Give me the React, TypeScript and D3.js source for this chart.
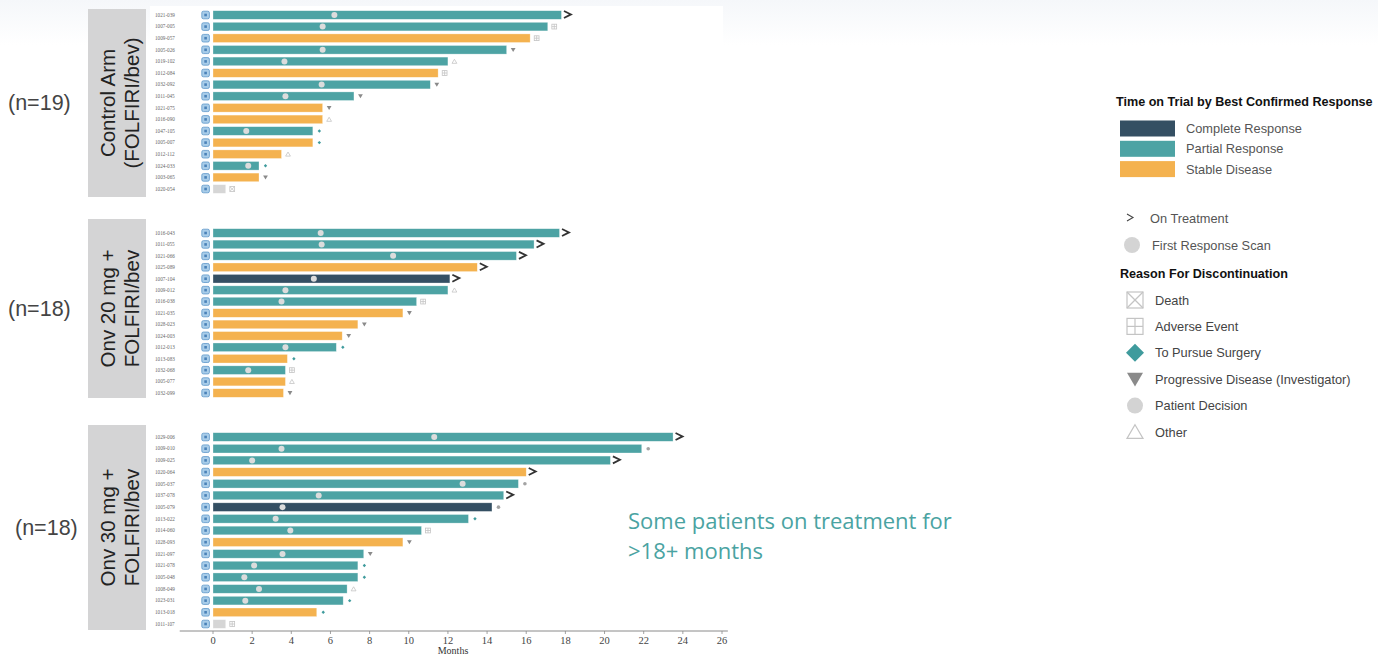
import React from "react";
import * as d3 from "d3";

// ---- Control arm (FOLFIRI/bev) ----
const controlIds = ["1021-039", "1007-005", "1009-057", "1005-026", "1019-102", "1012-084", "1032-092", "1011-045", "1021-075", "1016-090", "1047-105", "1005-007", "1012-112", "1024-033", "1003-065", "1020-054"];
const controlMonths = [17.8, 17.1, 16.2, 15.0, 12.0, 11.5, 11.1, 7.2, 5.6, 5.6, 5.1, 5.1, 3.5, 2.35, 2.35, 0.65];
const controlResponse = ["PR", "PR", "SD", "PR", "PR", "SD", "PR", "PR", "SD", "SD", "PR", "SD", "SD", "PR", "SD", "NE"];
const controlScan = [6.2, 5.6, null, 5.6, 3.65, null, 5.55, 3.7, null, null, 1.7, null, null, 1.8, null, null];
const controlReason = ["on", "ae", "ae", "pd", "other", "ae", "pd", "pd", "pd", "other", "surgery", "surgery", "other", "surgery", "pd", "death"];

// ---- Onv 20 mg + FOLFIRI/bev ----
const onv20Ids = ["1016-043", "1011-055", "1021-066", "1025-089", "1007-104", "1009-012", "1016-038", "1021-035", "1028-023", "1024-003", "1012-013", "1013-083", "1032-068", "1005-077", "1032-099"];
const onv20Months = [17.7, 16.4, 15.5, 13.5, 12.1, 12.0, 10.4, 9.7, 7.4, 6.6, 6.3, 3.8, 3.7, 3.7, 3.6];
const onv20Response = ["PR", "PR", "PR", "SD", "CR", "PR", "PR", "SD", "SD", "SD", "PR", "SD", "PR", "SD", "SD"];
const onv20Scan = [5.5, 5.55, 9.2, null, 5.15, 3.7, 3.5, null, null, null, 3.7, null, 1.8, null, null];
const onv20Reason = ["on", "on", "on", "on", "on", "other", "ae", "pd", "pd", "pd", "surgery", "surgery", "ae", "other", "pd"];

// ---- Onv 30 mg + FOLFIRI/bev ----
const onv30Ids = ["1029-006", "1009-010", "1009-025", "1020-064", "1005-037", "1037-078", "1005-079", "1013-022", "1014-060", "1028-093", "1021-097", "1021-078", "1005-048", "1008-049", "1023-031", "1013-018", "1011-107"];
const onv30Months = [23.5, 21.9, 20.3, 16.0, 15.6, 14.85, 14.25, 13.05, 10.65, 9.7, 7.7, 7.4, 7.4, 6.85, 6.65, 5.3, 0.65];
const onv30Response = ["PR", "PR", "PR", "SD", "PR", "PR", "CR", "PR", "PR", "SD", "PR", "PR", "PR", "PR", "PR", "SD", "NE"];
const onv30Scan = [11.3, 3.5, 2.0, null, 12.75, 5.4, 3.55, 3.2, 3.95, null, 3.55, 2.1, 1.6, 2.35, 1.65, null, null];
const onv30Reason = ["on", "decision", "on", "on", "decision", "on", "decision", "surgery", "ae", "pd", "pd", "surgery", "surgery", "other", "surgery", "surgery", "ae"];

const monthTicks = [0, 2, 4, 6, 8, 10, 12, 14, 16, 18, 20, 22, 24, 26];

const responseLabels = ["Complete Response", "Partial Response", "Stable Disease"];
const reasonLabels = ["Death", "Adverse Event", "To Pursue Surgery", "Progressive Disease (Investigator)", "Patient Decision", "Other"];

const COLORS: Record<string, string> = {
  CR: "#344f63",
  PR: "#4da3a4",
  SD: "#f4b24f",
  NE: "#d6d6d6",
};

const SANS = "'Liberation Sans', Arial, sans-serif";
const SERIF = "'Liberation Serif', 'Times New Roman', serif";

type Panel = {
  ids: string[];
  months: number[];
  response: string[];
  scan: (number | null)[];
  reason: string[];
  arm: string[];
  n: string;
  rows: [number, number];
  box: [number, number];
  nX: number;
};

const panels: Panel[] = [
  { ids: controlIds, months: controlMonths, response: controlResponse, scan: controlScan, reason: controlReason, arm: ["Control Arm", "(FOLFIRI/bev)"], n: "(n=19)", rows: [15, 189], box: [9, 197], nX: 8 },
  { ids: onv20Ids, months: onv20Months, response: onv20Response, scan: onv20Scan, reason: onv20Reason, arm: ["Onv 20 mg +", "FOLFIRI/bev"], n: "(n=18)", rows: [233, 393], box: [219, 398], nX: 8 },
  { ids: onv30Ids, months: onv30Months, response: onv30Response, scan: onv30Scan, reason: onv30Reason, arm: ["Onv 30 mg +", "FOLFIRI/bev"], n: "(n=18)", rows: [437, 624], box: [425, 630], nX: 15 },
];

function ReasonMark({ kind, x, y, s }: { kind: string; x: number; y: number; s: number }) {
  const h = s / 2;
  switch (kind) {
    case "death":
      return (
        <g stroke="#c4c4c4" strokeWidth={s > 8 ? 1.2 : 0.8} fill="none">
          <rect x={x - h} y={y - h} width={s} height={s} />
          <line x1={x - h} y1={y - h} x2={x + h} y2={y + h} />
          <line x1={x + h} y1={y - h} x2={x - h} y2={y + h} />
        </g>
      );
    case "ae":
      return (
        <g stroke="#c4c4c4" strokeWidth={s > 8 ? 1.2 : 0.8} fill="none">
          <rect x={x - h} y={y - h} width={s} height={s} />
          <line x1={x} y1={y - h} x2={x} y2={y + h} />
          <line x1={x - h} y1={y} x2={x + h} y2={y} />
        </g>
      );
    case "surgery":
      return <path d={`M${x},${y - h}L${x + h},${y}L${x},${y + h}L${x - h},${y}Z`} fill="#3f9b9d" />;
    case "pd":
      return <path d={`M${x - h},${y - h * 0.8}L${x + h},${y - h * 0.8}L${x},${y + h * 0.9}Z`} fill="#8a8a8a" />;
    case "decision":
      return <circle cx={x} cy={y} r={h} fill={s > 8 ? "#d3d3d3" : "#a3a3a3"} />;
    case "other":
      return (
        <path
          d={`M${x},${y - h * 0.9}L${x + h},${y + h * 0.8}L${x - h},${y + h * 0.8}Z`}
          fill="none"
          stroke="#c4c4c4"
          strokeWidth={s > 8 ? 1.2 : 0.8}
        />
      );
    default:
      return null;
  }
}

export default function App() {
  const W = 1378;
  const H = 657;
  const x = d3.scaleLinear().domain([0, 26]).range([213, 722]);
  const barH = 8.6;

  return (
    <svg width={W} height={H} style={{ position: "absolute", left: 0, top: 0, background: "#fff" }}>
      <defs>
        <linearGradient id="topShade" x1="0" y1="0" x2="0" y2="1">
          <stop offset="0" stopColor="#f5f7fa" />
          <stop offset="1" stopColor="#ffffff" />
        </linearGradient>
      </defs>
      <rect x={0} y={0} width={W} height={45} fill="url(#topShade)" />
      <rect x={150} y={6} width={573} height={H - 6} fill="#fff" />

      {panels.map((p, pi) => {
        const y = d3.scalePoint<string>().domain(p.ids).range(p.rows);
        const boxMid = (p.box[0] + p.box[1]) / 2;
        return (
          <g key={pi}>
            {/* arm label box */}
            <rect x={88} y={p.box[0]} width={58} height={p.box[1] - p.box[0]} fill="#d4d4d5" />
            <g transform={`translate(120,${boxMid}) rotate(-90)`}>
              {p.arm.map((t, i) => (
                <text
                  key={i}
                  x={0}
                  y={(i - 0.5) * 24 + 7}
                  textAnchor="middle"
                  fontFamily={SANS}
                  fontSize={20.5}
                  fill="#222"
                >
                  {t}
                </text>
              ))}
            </g>
            <text x={p.nX} y={boxMid + 7} fontFamily={SANS} fontSize={21.5} fill="#444">
              {p.n}
            </text>

            {p.ids.map((id, i) => {
              const cy = y(id)!;
              const end = x(p.months[i]);
              const scan = p.scan[i];
              return (
                <g key={id}>
                  <text x={155} y={cy + 1.8} fontFamily={SERIF} fontSize={5.2} fill="#666">
                    {id}
                  </text>
                  <rect x={201.8} y={cy - 3.8} width={7.6} height={7.6} rx={1.6} fill="#a9cde9" stroke="#5d97c9" strokeWidth={0.8} />
                  <rect x={204.3} y={cy - 1.3} width={2.6} height={2.6} fill="#4a82b8" />
                  <rect
                    x={x(0)}
                    y={cy - barH / 2}
                    width={end - x(0)}
                    height={barH}
                    fill={COLORS[p.response[i]]}
                    stroke="#ffffff"
                    strokeOpacity={0.5}
                    strokeWidth={0.6}
                  />
                  {scan !== null && <circle cx={x(scan)} cy={cy} r={3} fill="#dcdcdc" />}
                  {p.reason[i] === "on" ? (
                    <path
                      d={`M${end + 2.5},${cy - 4}L${end + 9.5},${cy - 0.6}L${end + 2.5},${cy + 3}`}
                      fill="none"
                      stroke="#333"
                      strokeWidth={1.8}
                    />
                  ) : (
                    <ReasonMark kind={p.reason[i]} x={end + 6.5} y={cy} s={p.reason[i] === "surgery" ? 3.4 : p.reason[i] === "decision" ? 3.6 : 4.8} />
                  )}
                </g>
              );
            })}
          </g>
        );
      })}

      {/* months axis */}
      <g>
        <line x1={x(-1.7)} x2={x(26.3)} y1={631} y2={631} stroke="#8a8a8a" strokeWidth={1} />
        {monthTicks.map((t) => (
          <g key={t}>
            <line x1={x(t)} x2={x(t)} y1={631} y2={634} stroke="#8a8a8a" strokeWidth={0.8} />
            <text x={x(t)} y={644} textAnchor="middle" fontFamily={SERIF} fontSize={10.5} fill="#444">
              {t}
            </text>
          </g>
        ))}
        <text x={453} y={654} textAnchor="middle" fontFamily={SERIF} fontSize={10} fill="#333">
          Months
        </text>
      </g>

      {/* annotation */}
      <text fontFamily="'Open Sans', sans-serif" fontSize={22} fill="#4aa3a2">
        <tspan x={628} y={529}>Some patients on treatment for</tspan>
        <tspan x={628} y={559}>{">18+ months"}</tspan>
      </text>

      {/* legend */}
      <g fontFamily={SANS}>
        <text x={1116} y={106} fontSize={12.6} fontWeight="bold" fill="#111">
          Time on Trial by Best Confirmed Response
        </text>
        {responseLabels.map((l, i) => (
          <g key={l}>
            <rect x={1120} y={120.5 + i * 20.3} width={55} height={16} fill={[COLORS.CR, COLORS.PR, COLORS.SD][i]} />
            <text x={1186} y={133 + i * 20.3} fontSize={12.8} fill="#555">
              {l}
            </text>
          </g>
        ))}
        <path d="M1127,214L1133,217.5L1127,221" fill="none" stroke="#444" strokeWidth={1.1} />
        <text x={1150} y={223} fontSize={12.8} fill="#555">
          On Treatment
        </text>
        <circle cx={1132} cy={245} r={8} fill="#d4d4d4" />
        <text x={1152} y={250} fontSize={12.8} fill="#555">
          First Response Scan
        </text>
        <text x={1120} y={278} fontSize={12.6} fontWeight="bold" fill="#111">
          Reason For Discontinuation
        </text>
        {reasonLabels.map((l, i) => {
          const cy = 300 + i * 26.4;
          const kind = ["death", "ae", "surgery", "pd", "decision", "other"][i];
          return (
            <g key={l}>
              <ReasonMark kind={kind} x={1135} y={cy} s={kind === "surgery" ? 18 : 16} />
              <text x={1155} y={cy + 4.5} fontSize={12.8} fill="#444">
                {l}
              </text>
            </g>
          );
        })}
      </g>
    </svg>
  );
}
